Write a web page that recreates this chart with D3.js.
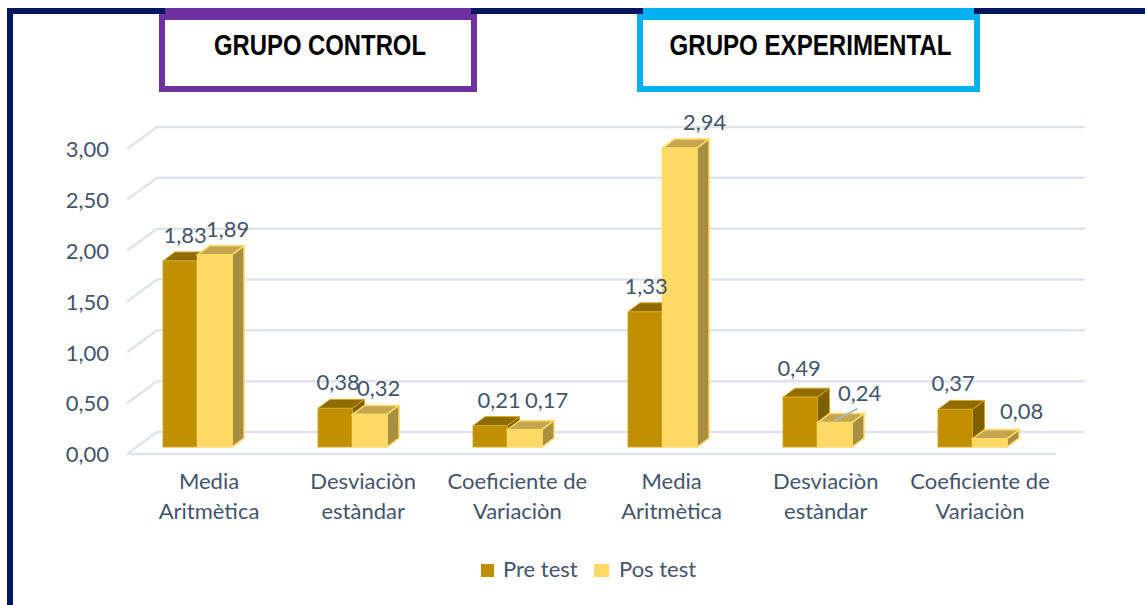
<!DOCTYPE html>
<html>
<head>
<meta charset="utf-8">
<script src="https://cdn.jsdelivr.net/npm/d3@7"></script>
<style>
  html, body { margin: 0; padding: 0; background: #fff; }
  svg { display: block; }
  text { font-family: Lato, "Open Sans", sans-serif; fill: #44546a; }
  .title { font-family: "Liberation Sans", sans-serif; font-weight: bold; fill: #000; }
</style>
</head>
<body>
<svg id="chart"></svg>
<script>
const width = 1145,
  height = 605;

const categories = [
  ["Media", "Aritmètica"],
  ["Desviaciòn", "estàndar"],
  ["Coeficiente de", "Variaciòn"],
  ["Media", "Aritmètica"],
  ["Desviaciòn", "estàndar"],
  ["Coeficiente de", "Variaciòn"]
];
const seriesNames = ["Pre test", "Pos test"];
const preTest = [1.83, 0.38, 0.21, 1.33, 0.49, 0.37];
const posTest = [1.89, 0.32, 0.17, 2.94, 0.24, 0.08];
const yTicks = [0, 0.5, 1, 1.5, 2, 2.5, 3];
const titles = ["GRUPO CONTROL", "GRUPO EXPERIMENTAL"];

// manual nudges for the data labels, the chart had them dragged around
const preLabelNudge = [[-1, 0], [-3, 0], [3, 0], [-5, 0], [-7, -3], [-8, 0]];
const posLabelNudge = [[7, 0], [3, 0], [16, -4], [19, 0], [19, -4], [26, -2]];

const svg = d3.select("#chart").attr("width", width).attr("height", height);

const depthX = 30, // wall offset of the gridlines
  depthY = 22;
const barDepthX = 12,
  barDepthY = 9;
const floorShift = 7; // bars stand a bit behind the front edge

const x = d3.scaleBand().domain(d3.range(categories.length)).range([127, 1057]);
const y = d3.scaleLinear().domain([0, 3]).range([454, 149]);
const inner = d3.scaleBand().domain([0, 1]).range([36, 105]);
const labelX = d3.scalePoint().domain(d3.range(categories.length)).range([209, 980]);

const colors = [
  { front: "#bf8f00", top: "#8f6b00", side: "#7f6000", stroke: "#d3a823", strokeWidth: 1 },
  { front: "#ffd966", top: "#c4a64f", side: "#a68e42", stroke: "#ffd966", strokeWidth: 1.5 }
];

// frame
svg.append("path")
  .attr("d", "M10,605V11H1145")
  .attr("fill", "none")
  .attr("stroke", "#00175f")
  .attr("stroke-width", 6);

// title boxes
const boxes = [
  { x0: 159, x1: 477, color: "#7030a0", textWidth: 212 },
  { x0: 637, x1: 980, color: "#00b0f0", textWidth: 282 }
];
boxes.forEach((b, i) => {
  svg.append("rect")
    .attr("x", b.x0 + 3)
    .attr("y", 17)
    .attr("width", b.x1 - b.x0 - 6)
    .attr("height", 72)
    .attr("fill", "#fff")
    .attr("stroke", b.color)
    .attr("stroke-width", 6);
  svg.append("rect")
    .attr("x", b.x0 + 6)
    .attr("y", 8)
    .attr("width", b.x1 - b.x0 - 12)
    .attr("height", 11)
    .attr("fill", b.color);
  svg.append("text")
    .attr("class", "title")
    .attr("x", (b.x0 + b.x1) / 2 + 2)
    .attr("y", 55)
    .attr("text-anchor", "middle")
    .attr("font-size", 29)
    .attr("textLength", b.textWidth)
    .attr("lengthAdjust", "spacingAndGlyphs")
    .text(titles[i]);
});

// gridlines: diagonal on the side wall, then along the back wall
const grid = svg.append("g").attr("fill", "none").attr("stroke", "#e0e3eb").attr("stroke-width", 2.5);
yTicks.forEach((t) => {
  grid.append("path")
    .attr("d", `M${x.range()[0]},${y(t)}L${x.range()[0] + depthX},${y(t) - depthY}H${x.range()[1] + depthX - 2}`);
});
grid.append("path")
  .attr("d", `M${x.range()[0]},${y(0)}H${x.range()[1] - 1}`);

// y axis
const comma = d3.formatLocale({ decimal: ",", thousands: ".", grouping: [3], currency: ["", ""] }).format(".2f");
const yAxis = svg.append("g")
  .attr("transform", "translate(115,0)")
  .call(d3.axisLeft(y).tickValues(yTicks).tickFormat(comma).tickSize(0).tickPadding(6));
yAxis.select(".domain").remove();
yAxis.selectAll("text").attr("font-size", 22).attr("font-family", null).attr("dy", "0.35em");

// 3d bars
function drawBar(g, left, w, top, bottom, c) {
  g.append("polygon")
    .attr("points", [[left, top], [left + barDepthX, top - barDepthY], [left + w + barDepthX, top - barDepthY], [left + w, top]].join(" "))
    .attr("fill", c.top).attr("stroke", c.stroke).attr("stroke-width", c.strokeWidth);
  g.append("polygon")
    .attr("points", [[left + w, top], [left + w + barDepthX, top - barDepthY], [left + w + barDepthX, bottom - barDepthY], [left + w, bottom]].join(" "))
    .attr("fill", c.side).attr("stroke", c.stroke).attr("stroke-width", c.strokeWidth);
  g.append("rect")
    .attr("x", left).attr("y", top)
    .attr("width", w).attr("height", bottom - top)
    .attr("fill", c.front).attr("stroke", c.stroke).attr("stroke-width", c.strokeWidth);
}

const bars = svg.append("g");
const labels = svg.append("g");
[preTest, posTest].forEach((values, s) => {
  const nudges = s === 0 ? preLabelNudge : posLabelNudge;
  values.forEach((v, i) => {
    const left = x(i) + inner(s);
    const w = inner.bandwidth();
    const top = y(v) - floorShift;
    drawBar(bars, left, w, top, y(0) - floorShift, colors[s]);
    labels.append("text")
      .attr("x", left + (w + barDepthX) / 2 + nudges[i][0])
      .attr("y", top - barDepthY - 9 + nudges[i][1])
      .attr("text-anchor", "middle")
      .attr("font-size", 22)
      .text(comma(v));
  });
});

// leader line of the 0,24 label
svg.append("line")
  .attr("x1", x(4) + inner(1) + 17)
  .attr("y1", y(posTest[4]) - floorShift - 2)
  .attr("x2", x(4) + inner(1) + 40)
  .attr("y2", y(posTest[4]) - floorShift - 14)
  .attr("stroke", "#aebccb")
  .attr("stroke-width", 2);

// category labels
categories.forEach((lines, i) => {
  const t = svg.append("text")
    .attr("text-anchor", "middle")
    .attr("font-size", 22);
  lines.forEach((line, k) => {
    t.append("tspan")
      .attr("x", labelX(i))
      .attr("y", 489 + k * 30)
      .text(line);
  });
});

// legend
const legendX = [481, 594];
seriesNames.forEach((name, i) => {
  svg.append("rect")
    .attr("x", legendX[i])
    .attr("y", 564)
    .attr("width", i === 0 ? 13 : 15)
    .attr("height", 13)
    .attr("fill", colors[i].front);
  svg.append("text")
    .attr("x", legendX[i] + (i === 0 ? 22 : 25))
    .attr("y", 577)
    .attr("font-size", 22)
    .text(name);
});
</script>
</body>
</html>
